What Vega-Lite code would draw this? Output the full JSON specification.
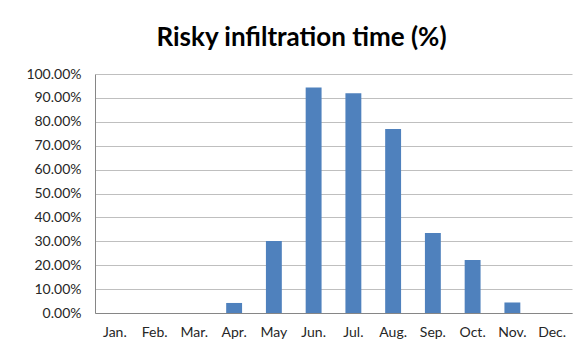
{
  "$schema": "https://vega.github.io/schema/vega-lite/v6.json",
  "autosize": "none",
  "width": 477,
  "height": 239,
  "padding": {"left": 95, "top": 74, "right": 12, "bottom": 38},
  "background": "white",
  "title": {
    "text": "Risky infiltration time (%)",
    "font": "Lato",
    "fontSize": 26,
    "fontWeight": "bold",
    "color": "#000000",
    "anchor": "middle",
    "dx": -32,
    "offset": 16
  },
  "data": {
    "values": [
      {"month": "Jan.", "value": 0},
      {"month": "Feb.", "value": 0},
      {"month": "Mar.", "value": 0},
      {"month": "Apr.", "value": 0.042},
      {"month": "May", "value": 0.301},
      {"month": "Jun.", "value": 0.944},
      {"month": "Jul.", "value": 0.919},
      {"month": "Aug.", "value": 0.77},
      {"month": "Sep.", "value": 0.335},
      {"month": "Oct.", "value": 0.222},
      {"month": "Nov.", "value": 0.044},
      {"month": "Dec.", "value": 0}
    ]
  },
  "mark": {"type": "bar", "color": "#4F81BD"},
  "encoding": {
    "x": {
      "field": "month",
      "type": "nominal",
      "sort": null,
      "title": null,
      "scale": {"paddingInner": 0.6, "paddingOuter": 0.3},
      "axis": {
        "labelAngle": 0,
        "ticks": false,
        "domainColor": "#868686",
        "labelFont": "Lato",
        "labelFontSize": 14,
        "labelColor": "#262626",
        "labelPadding": 12
      }
    },
    "y": {
      "field": "value",
      "type": "quantitative",
      "title": null,
      "scale": {"domain": [0, 1], "nice": false},
      "axis": {
        "values": [0, 0.1, 0.2, 0.3, 0.4, 0.5, 0.6, 0.7, 0.8, 0.9, 1],
        "format": ".2%",
        "ticks": false,
        "domainColor": "#868686",
        "gridColor": "#BFBFBF",
        "gridWidth": 1,
        "gridOpacity": 1,
        "labelFont": "Lato",
        "labelFontSize": 14,
        "labelColor": "#262626",
        "labelPadding": 14
      }
    }
  },
  "config": {"view": {"stroke": null}}
}
